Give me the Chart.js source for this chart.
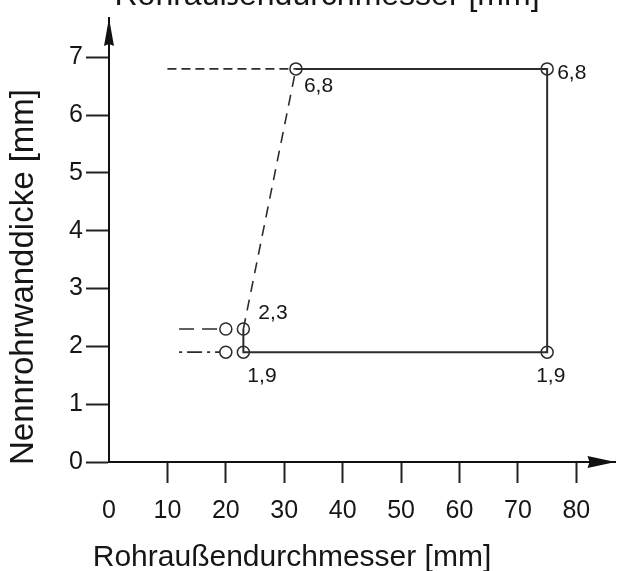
<!DOCTYPE html>
<html>
<head>
<meta charset="utf-8">
<script src="https://cdn.jsdelivr.net/npm/chart.js@4"></script>
<style>
  html, body { margin: 0; padding: 0; background: #fff; }
  #wrap { position: relative; width: 623px; height: 571px; }
</style>
</head>
<body>
<div id="wrap"><canvas id="wallChart"></canvas></div>
<script>
// Axis ticks and ranges
const xTicks = [0, 10, 20, 30, 40, 50, 60, 70, 80];
const yTicks = [0, 1, 2, 3, 4, 5, 6, 7];
const xMax = 86.7;   // arrow tip of the x axis
const yMax = 7.68;   // arrow tip of the y axis

// Solid outline of the range
const outlineX = [32, 75, 75, 23, 23];
const outlineY = [6.8, 6.8, 1.9, 1.9, 2.3];
// Dashed slope
const slopeX = [23, 32];
const slopeY = [2.3, 6.8];
// Dashed lead-in at 6,8
const topLeadX = [10, 32];
const topLeadY = [6.8, 6.8];
// Dashed lead-in at 2,3
const midLeadX = [12, 19];
const midLeadY = [2.3, 2.3];
// Dash-dot lead-in at 1,9
const lowLeadX = [12, 19];
const lowLeadY = [1.9, 1.9];
// Circle markers
const circleX = [20, 23, 20, 23, 32, 75, 75];
const circleY = [2.3, 2.3, 1.9, 1.9, 6.8, 6.8, 1.9];
// Value labels
const valueLabels = ['6,8', '6,8', '2,3', '1,9', '1,9'];
const labelX = [32, 75, 23, 23, 75];
const labelY = [6.8, 6.8, 2.3, 1.9, 1.9];

const xTitle = 'Rohraußendurchmesser [mm]';
const yTitle = 'Nennrohrwanddicke [mm]';

// label offsets (pixels) relative to their point
const labelStyle = [
  { dx: 8, dy: 23 },
  { dx: 10, dy: 10 },
  { dx: 15, dy: -10 },
  { dx: 4, dy: 30 },
  { dx: -11, dy: 30 }
];

const FONT = '"Liberation Sans", Arial, Helvetica, sans-serif';
const INK = '#161616';
const LINE = '#2c2c2c';

const pts = (xs, ys) => xs.map((v, i) => ({ x: v, y: ys[i] }));

function lineSet(xs, ys, dash, width) {
  return {
    data: pts(xs, ys),
    showLine: true,
    borderColor: LINE,
    borderWidth: width,
    borderDash: dash,
    pointRadius: 0,
    fill: false
  };
}

const annotate = {
  id: 'annotate',
  afterDraw(chart) {
    const { ctx, scales: { x, y } } = chart;
    const x0 = x.getPixelForValue(0), y0 = y.getPixelForValue(0);
    const xt = x.getPixelForValue(xMax), yt = y.getPixelForValue(yMax);
    ctx.save();
    ctx.fillStyle = '#111';
    // x arrow
    ctx.beginPath();
    ctx.moveTo(xt, y0);
    ctx.lineTo(xt - 28, y0 - 6);
    ctx.lineTo(xt - 26, y0);
    ctx.lineTo(xt - 28, y0 + 6);
    ctx.closePath();
    ctx.fill();
    // y arrow
    ctx.beginPath();
    ctx.moveTo(x0, yt);
    ctx.lineTo(x0 - 5, yt + 28);
    ctx.lineTo(x0, yt + 26);
    ctx.lineTo(x0 + 5, yt + 28);
    ctx.closePath();
    ctx.fill();

    // value labels
    ctx.fillStyle = INK;
    ctx.font = '21px ' + FONT;
    ctx.textAlign = 'left';
    ctx.textBaseline = 'alphabetic';
    valueLabels.forEach((t, i) => {
      const s = labelStyle[i];
      ctx.fillText(t, x.getPixelForValue(labelX[i]) + s.dx, y.getPixelForValue(labelY[i]) + s.dy);
    });

    // axis titles
    ctx.textAlign = 'center';
    ctx.font = '30px ' + FONT;
    ctx.fillText(xTitle, 292, 566);
    ctx.font = '32px ' + FONT;
    ctx.fillText(xTitle, 327, 5);   // cut-off title at the top edge
    ctx.font = '33px ' + FONT;
    ctx.translate(33, 277);
    ctx.rotate(-Math.PI / 2);
    ctx.fillText(yTitle, 0, 0);
    ctx.restore();
  }
};

new Chart(document.getElementById('wallChart'), {
  type: 'scatter',
  data: {
    datasets: [
      {
        data: pts(circleX, circleY),
        showLine: false,
        pointRadius: 6,
        pointStyle: 'circle',
        pointBorderColor: LINE,
        pointBackgroundColor: 'rgba(0,0,0,0)',
        pointBorderWidth: 1.5
      },
      lineSet(outlineX, outlineY, [], 2),
      lineSet(slopeX, slopeY, [11, 8], 1.6),
      lineSet(topLeadX, topLeadY, [9, 5], 1.6),
      lineSet(midLeadX, midLeadY, [15, 8], 1.6),
      lineSet(lowLeadX, lowLeadY, [3, 5, 15, 5], 1.6)
    ]
  },
  options: {
    responsive: true,
    maintainAspectRatio: false,
    animation: false,
    events: [],
    layout: { padding: { top: 12, right: 7, left: 0, bottom: 0 } },
    plugins: { legend: { display: false }, tooltip: { enabled: false } },
    scales: {
      x: {
        type: 'linear',
        position: 'bottom',
        min: 0,
        max: xMax,
        afterBuildTicks: s => { s.ticks = xTicks.map(v => ({ value: v })); },
        afterFit: s => { s.height = 109; },
        grid: {
          drawOnChartArea: false,
          drawTicks: true,
          tickLength: 21,
          tickWidth: 2,
          tickColor: c => (c.tick && c.tick.value === 0 ? 'rgba(0,0,0,0)' : '#222')
        },
        border: { display: true, color: '#111', width: 2 },
        ticks: {
          autoSkip: false,
          maxRotation: 0,
          padding: 13,
          color: INK,
          font: { family: FONT, size: 25 }
        }
      },
      y: {
        type: 'linear',
        min: 0,
        max: yMax,
        afterBuildTicks: s => { s.ticks = yTicks.map(v => ({ value: v })); },
        afterFit: s => { s.width = 109; },
        grid: {
          drawOnChartArea: false,
          drawTicks: true,
          tickLength: 23,
          tickWidth: 2,
          tickColor: '#222'
        },
        border: { display: true, color: '#111', width: 2 },
        ticks: {
          padding: 3,
          color: INK,
          font: { family: FONT, size: 25 }
        }
      }
    }
  },
  plugins: [annotate]
});
</script>
</body>
</html>
